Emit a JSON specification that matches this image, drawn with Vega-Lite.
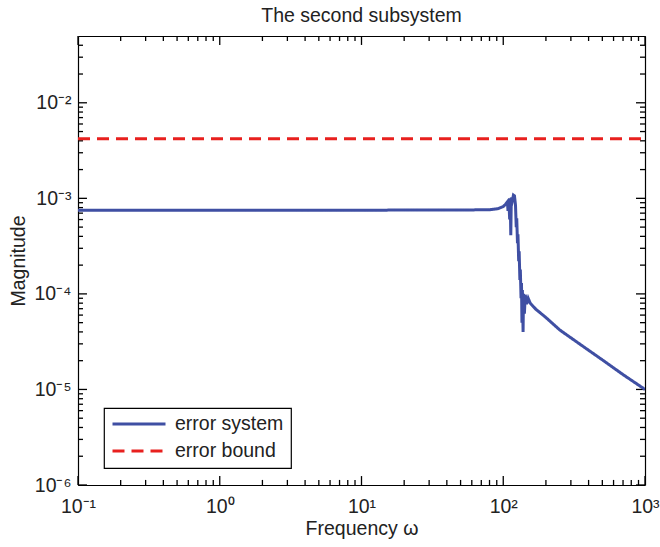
{
  "$schema": "https://vega.github.io/schema/vega-lite/v6.json",
  "width": 567,
  "height": 449,
  "autosize": "none",
  "padding": {"left": 78, "top": 36, "right": 15, "bottom": 62},
  "background": "white",
  "title": {
    "text": "The second subsystem",
    "font": "Liberation Sans",
    "fontSize": 19.5,
    "fontWeight": "normal",
    "color": "#222222",
    "anchor": "middle",
    "offset": 9
  },
  "data": {
    "values": [
      {"f": 0.1, "m": 0.00075, "series": "error system"},
      {"f": 1, "m": 0.00075, "series": "error system"},
      {"f": 10, "m": 0.000752, "series": "error system"},
      {"f": 50, "m": 0.000755, "series": "error system"},
      {"f": 80, "m": 0.00076, "series": "error system"},
      {"f": 92, "m": 0.00078, "series": "error system"},
      {"f": 100, "m": 0.00082, "series": "error system"},
      {"f": 104, "m": 0.00087, "series": "error system"},
      {"f": 107, "m": 0.00092, "series": "error system"},
      {"f": 108, "m": 0.00074, "series": "error system"},
      {"f": 109.5, "m": 0.00097, "series": "error system"},
      {"f": 111, "m": 0.0006, "series": "error system"},
      {"f": 112, "m": 0.001, "series": "error system"},
      {"f": 113, "m": 0.00041, "series": "error system"},
      {"f": 114, "m": 0.00102, "series": "error system"},
      {"f": 116, "m": 0.00095, "series": "error system"},
      {"f": 118, "m": 0.00108, "series": "error system"},
      {"f": 120, "m": 0.00106, "series": "error system"},
      {"f": 122, "m": 0.00085, "series": "error system"},
      {"f": 123.5, "m": 0.0005, "series": "error system"},
      {"f": 124.5, "m": 0.00062, "series": "error system"},
      {"f": 126, "m": 0.00034, "series": "error system"},
      {"f": 127, "m": 0.00042, "series": "error system"},
      {"f": 128.5, "m": 0.00022, "series": "error system"},
      {"f": 129.5, "m": 0.00028, "series": "error system"},
      {"f": 131, "m": 0.00014, "series": "error system"},
      {"f": 132, "m": 0.00018, "series": "error system"},
      {"f": 133.5, "m": 0.00009, "series": "error system"},
      {"f": 134.5, "m": 0.00013, "series": "error system"},
      {"f": 135.5, "m": 0.00005, "series": "error system"},
      {"f": 136.5, "m": 0.00011, "series": "error system"},
      {"f": 138, "m": 0.00004, "series": "error system"},
      {"f": 139, "m": 0.0001, "series": "error system"},
      {"f": 141, "m": 0.000062, "series": "error system"},
      {"f": 143, "m": 0.000098, "series": "error system"},
      {"f": 146, "m": 0.000078, "series": "error system"},
      {"f": 150, "m": 0.00009, "series": "error system"},
      {"f": 155, "m": 0.00008, "series": "error system"},
      {"f": 170, "m": 0.000069, "series": "error system"},
      {"f": 200, "m": 0.0000566, "series": "error system"},
      {"f": 250, "m": 0.000042, "series": "error system"},
      {"f": 300, "m": 0.0000347, "series": "error system"},
      {"f": 400, "m": 0.0000257, "series": "error system"},
      {"f": 500, "m": 0.0000204, "series": "error system"},
      {"f": 700, "m": 0.0000143, "series": "error system"},
      {"f": 1000, "m": 0.00001, "series": "error system"},
      {"f": 0.1, "m": 0.0042, "series": "error bound"},
      {"f": 1000, "m": 0.0042, "series": "error bound"}
    ]
  },
  "datasets": {
    "xmajor": [{"v": 0.1}, {"v": 1}, {"v": 10}, {"v": 100}, {"v": 1000}],
    "xminor": [
      {"v": 0.2}, {"v": 0.3}, {"v": 0.4}, {"v": 0.5}, {"v": 0.6}, {"v": 0.7}, {"v": 0.8}, {"v": 0.9},
      {"v": 2}, {"v": 3}, {"v": 4}, {"v": 5}, {"v": 6}, {"v": 7}, {"v": 8}, {"v": 9},
      {"v": 20}, {"v": 30}, {"v": 40}, {"v": 50}, {"v": 60}, {"v": 70}, {"v": 80}, {"v": 90},
      {"v": 200}, {"v": 300}, {"v": 400}, {"v": 500}, {"v": 600}, {"v": 700}, {"v": 800}, {"v": 900}
    ],
    "ymajor": [{"v": 0.000001}, {"v": 0.00001}, {"v": 0.0001}, {"v": 0.001}, {"v": 0.01}],
    "yminor": [
      {"v": 0.000002}, {"v": 0.000003}, {"v": 0.000004}, {"v": 0.000005}, {"v": 0.000006}, {"v": 0.000007}, {"v": 0.000008}, {"v": 0.000009},
      {"v": 0.00002}, {"v": 0.00003}, {"v": 0.00004}, {"v": 0.00005}, {"v": 0.00006}, {"v": 0.00007}, {"v": 0.00008}, {"v": 0.00009},
      {"v": 0.0002}, {"v": 0.0003}, {"v": 0.0004}, {"v": 0.0005}, {"v": 0.0006}, {"v": 0.0007}, {"v": 0.0008}, {"v": 0.0009},
      {"v": 0.002}, {"v": 0.003}, {"v": 0.004}, {"v": 0.005}, {"v": 0.006}, {"v": 0.007}, {"v": 0.008}, {"v": 0.009},
      {"v": 0.02}, {"v": 0.03}, {"v": 0.04}
    ]
  },
  "config": {
    "view": {"stroke": null},
    "axis": {
      "grid": false,
      "domainColor": "#000000",
      "domainWidth": 1.2,
      "labelFont": "Liberation Sans",
      "labelFontSize": 19.5,
      "labelColor": "#222222",
      "labelFlush": false,
      "labelOverlap": false,
      "labelBound": false,
      "titleFont": "Liberation Sans",
      "titleFontSize": 19.5,
      "titleFontWeight": "normal",
      "titleColor": "#222222"
    },
    "rule": {"color": "#000000", "strokeWidth": 1.3},
    "legend": {
      "orient": "none",
      "legendX": 26,
      "legendY": 372,
      "strokeColor": "#000000",
      "strokeWidth": 1.2,
      "fillColor": "white",
      "padding": 7,
      "clipHeight": 18,
      "rowPadding": 7,
      "symbolType": "stroke",
      "symbolSize": 2809,
      "symbolStrokeWidth": 3,
      "labelFont": "Liberation Sans",
      "labelFontSize": 19.5,
      "labelColor": "#222222",
      "labelOffset": 8
    }
  },
  "resolve": {"axis": {"x": "independent", "y": "independent"}},
  "layer": [
    {
      "data": {"name": "xmajor"},
      "mark": {"type": "rule"},
      "encoding": {
        "x": {"field": "v", "type": "quantitative", "axis": null},
        "y": {"datum": 0.000001, "type": "quantitative", "axis": null},
        "y2": {"datum": 0.00000124}
      }
    },
    {
      "data": {"name": "xminor"},
      "mark": {"type": "rule"},
      "encoding": {
        "x": {"field": "v", "type": "quantitative", "axis": null},
        "y": {"datum": 0.000001, "type": "quantitative", "axis": null},
        "y2": {"datum": 0.00000113}
      }
    },
    {
      "data": {"name": "xmajor"},
      "mark": {"type": "rule"},
      "encoding": {
        "x": {"field": "v", "type": "quantitative", "axis": null},
        "y": {"datum": 0.05, "type": "quantitative", "axis": null},
        "y2": {"datum": 0.0403}
      }
    },
    {
      "data": {"name": "xminor"},
      "mark": {"type": "rule"},
      "encoding": {
        "x": {"field": "v", "type": "quantitative", "axis": null},
        "y": {"datum": 0.05, "type": "quantitative", "axis": null},
        "y2": {"datum": 0.0443}
      }
    },
    {
      "data": {"name": "ymajor"},
      "mark": {"type": "rule"},
      "encoding": {
        "y": {"field": "v", "type": "quantitative", "axis": null},
        "x": {"datum": 0.1, "type": "quantitative", "axis": null},
        "x2": {"datum": 0.1157}
      }
    },
    {
      "data": {"name": "yminor"},
      "mark": {"type": "rule"},
      "encoding": {
        "y": {"field": "v", "type": "quantitative", "axis": null},
        "x": {"datum": 0.1, "type": "quantitative", "axis": null},
        "x2": {"datum": 0.1085}
      }
    },
    {
      "data": {"name": "ymajor"},
      "mark": {"type": "rule"},
      "encoding": {
        "y": {"field": "v", "type": "quantitative", "axis": null},
        "x": {"datum": 1000, "type": "quantitative", "axis": null},
        "x2": {"datum": 864}
      }
    },
    {
      "data": {"name": "yminor"},
      "mark": {"type": "rule"},
      "encoding": {
        "y": {"field": "v", "type": "quantitative", "axis": null},
        "x": {"datum": 1000, "type": "quantitative", "axis": null},
        "x2": {"datum": 922}
      }
    },
    {
      "mark": {"type": "point", "opacity": 0},
      "encoding": {
        "x": {"field": "f", "type": "quantitative", "axis": {"orient": "top", "title": null, "labels": false, "ticks": false, "domain": true}},
        "y": {"field": "m", "type": "quantitative", "axis": {"orient": "right", "title": null, "labels": false, "ticks": false, "domain": true}}
      }
    },
    {
      "mark": {"type": "line", "strokeWidth": 3, "clip": true},
      "encoding": {
        "x": {
          "field": "f",
          "type": "quantitative",
          "scale": {"type": "log", "domain": [0.1, 1000], "nice": false},
          "axis": {
            "orient": "bottom",
            "title": "Frequency ω",
            "titlePadding": 4,
            "values": [0.1, 1, 10, 100, 1000],
            "ticks": false,
            "labelPadding": 12,
            "labelExpr": "datum.value < 0.5 ? '10⁻¹' : datum.value < 5 ? '10⁰' : datum.value < 50 ? '10¹' : datum.value < 500 ? '10²' : '10³'"
          }
        },
        "y": {
          "field": "m",
          "type": "quantitative",
          "scale": {"type": "log", "domain": [0.000001, 0.05], "nice": false},
          "axis": {
            "orient": "left",
            "title": "Magnitude",
            "titlePadding": 5,
            "values": [0.000001, 0.00001, 0.0001, 0.001, 0.01],
            "ticks": false,
            "labelPadding": 7,
            "labelExpr": "datum.value < 0.000005 ? '10⁻⁶' : datum.value < 0.00005 ? '10⁻⁵' : datum.value < 0.0005 ? '10⁻⁴' : datum.value < 0.005 ? '10⁻³' : '10⁻²'"
          }
        },
        "color": {
          "field": "series",
          "type": "nominal",
          "scale": {"domain": ["error system", "error bound"], "range": ["#3f4fa3", "#e8201e"]},
          "legend": {"title": null}
        },
        "strokeDash": {
          "field": "series",
          "type": "nominal",
          "scale": {"domain": ["error system", "error bound"], "range": [[1, 0], [12, 7]]},
          "legend": {"title": null}
        }
      }
    }
  ]
}
